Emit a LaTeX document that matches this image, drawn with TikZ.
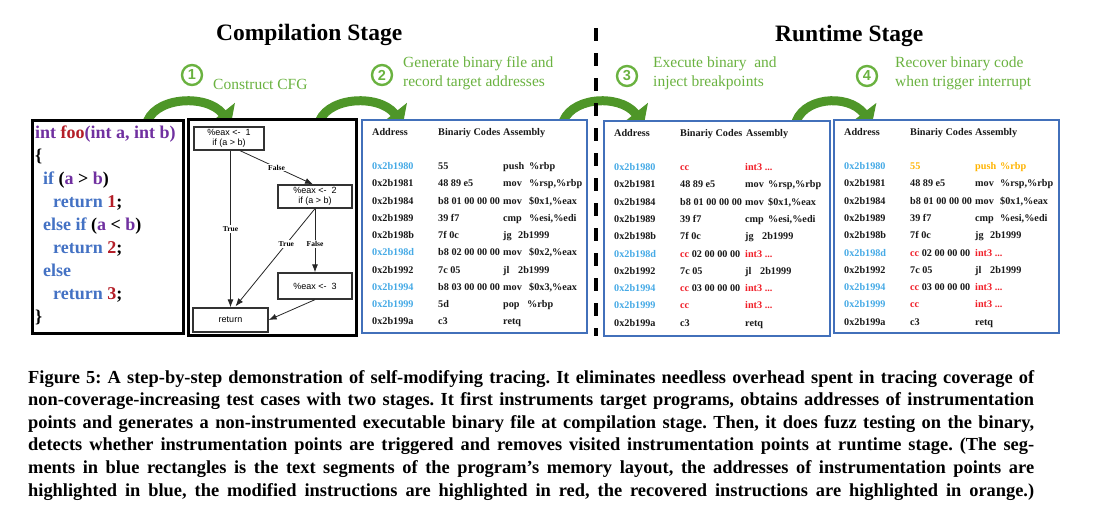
\documentclass[tikz,border=0pt]{standalone}
\usepackage{fontspec}
\setmainfont{Liberation Serif}
\newfontfamily\sansf{Liberation Sans}
\usetikzlibrary{arrows.meta,calc}
\definecolor{grn}{RGB}{106,178,64}
\definecolor{arrowgrn}{RGB}{78,150,40}
\definecolor{boxblue}{RGB}{66,112,186}
\definecolor{addrblue}{RGB}{70,170,230}
\definecolor{hired}{RGB}{240,30,40}
\definecolor{hiorange}{RGB}{255,180,0}
\definecolor{kwblue}{RGB}{68,114,196}
\definecolor{kwpurple}{RGB}{112,48,160}
\definecolor{kwred}{RGB}{180,30,40}
\definecolor{ink}{RGB}{25,25,25}
\newcommand\trow[7]{%
  \node[tt] (#1a) at (\tx, \ty+\tdy*#2) {#3};
  \node[tt] (#1c) at (\tx+66, \ty+\tdy*#2) {#4};
  \node[tt] (#1m) at (\tx+131, \ty+\tdy*#2) {#5};
  \node[tt] (#1o) at (\tx+131+#7, \ty+\tdy*#2) {#6};}
\newcommand\ad[1]{\textcolor{addrblue}{#1}}
\newcommand\rd[1]{\textcolor{hired}{#1}}
\newcommand\og[1]{\textcolor{hiorange}{#1}}
\newcommand\kp[1]{\textcolor{kwpurple}{#1}}
\newcommand\kb[1]{\textcolor{kwblue}{#1}}
\newcommand\kr[1]{\textcolor{kwred}{#1}}
\frenchspacing
\tikzset{
  tt/.style={anchor=base west, inner sep=0, text=ink, font=\fontsize{10.2}{12}\selectfont\bfseries},
  codeline/.style={anchor=base west, inner sep=0, font=\fontsize{18}{22}\selectfont\bfseries},
  title/.style={anchor=base west, inner sep=0, font=\fontsize{23.5}{26}\selectfont\bfseries},
  steptext/.style={anchor=base west, inner sep=0, text=grn, align=left, font=\fontsize{15.5}{19}\selectfont},
  stepnum/.style={circle, draw=grn, line width=2.4, text=grn, minimum size=20, inner sep=0, font=\sansf\fontsize{14.5}{14.5}\selectfont\bfseries},
  bigarrow/.style={draw=arrowgrn, line width=9, -{Triangle[width=32pt,length=14pt,fill=arrowgrn]}},
  blackbox/.style={draw=black, fill=white, line width=3, inner sep=0},
  bluebox/.style={draw=boxblue, fill=white, line width=2.5, inner sep=0},
  cfgnode/.style={draw=black!80, line width=1.3, inner sep=0, align=center, font=\sansf\fontsize{9}{10.5}\selectfont},
  cfgedge/.style={draw=black!85, line width=0.8, -{Latex[length=8pt,width=6pt]}},
  elabel/.style={fill=white, inner sep=1.2, font=\fontsize{7.5}{9}\selectfont\bfseries},
  capline/.style={anchor=base west, inner sep=0, font=\fontsize{18.4}{22.6}\selectfont\bfseries},
}
\begin{document}
\begin{tikzpicture}[x=1pt,y=-1pt]
\useasboundingbox (0,0) rectangle (1093,517);
% titles
\node[title] (t-comp) at (216,40) {Compilation Stage};
\node[title] (t-run) at (775,41) {Runtime Stage};
% step labels
\node[stepnum] (n1) at (192,75) {1};
\node[steptext] (s1) at (213,89) {Construct CFG};
\node[stepnum] (n2) at (382,75) {2};
\node[steptext] (s2) at (403,86) {Generate binary file and\\record target addresses};
\node[stepnum] (n3) at (627,76) {3};
\node[steptext] (s3) at (653,86) {Execute binary\ \ and\\inject breakpoints};
\node[stepnum] (n4) at (867,76) {4};
\node[steptext] (s4) at (895,86) {Recover binary code\\when trigger interrupt};
% green arrows
\coordinate (a1s) at (146,126); \coordinate (a1e) at (231,124);
\coordinate (a2s) at (318,126); \coordinate (a2e) at (403,124);
\coordinate (a3s) at (562,126); \coordinate (a3e) at (644,124);
\coordinate (a4s) at (795,126); \coordinate (a4e) at (872,124);
\draw[bigarrow] (a1s) .. controls (151,97) and (206,93) .. (a1e);
\draw[bigarrow] (a2s) .. controls (323,97) and (378,93) .. (a2e);
\draw[bigarrow] (a3s) .. controls (567,97) and (619,93) .. (a3e);
\draw[bigarrow] (a4s) .. controls (800,97) and (848,93) .. (a4e);
% dashed separator
\coordinate (d1) at (596,28); \coordinate (d2) at (596,336);
\draw[line width=4, dash pattern=on 13 off 12] (d1) -- (d2);
% boxes
\node[blackbox, minimum width=151, minimum height=213] (code) at (107.5,226.5) {};
\node[blackbox, minimum width=168, minimum height=216] (cfg) at (272,227) {};
\node[bluebox, minimum width=225, minimum height=213] (tb1) at (474.5,226.5) {};
\node[bluebox, minimum width=226, minimum height=215] (tb2) at (717,228.5) {};
\node[bluebox, minimum width=225, minimum height=213] (tb3) at (946.5,226.5) {};
% source code
\node[codeline] (c1) at (35,138) {\kp{int} \kr{foo}\kp{(int a, int b)}};
\node[codeline] (c2) at (35,161.1) {\{};
\node[codeline] (c3) at (43,184.2) {\kb{if} (\kp{a} > \kp{b})};
\node[codeline] (c4) at (53,207.3) {\kb{return} \kr{1};};
\node[codeline] (c5) at (43,230.4) {\kb{else if} (\kp{a} < \kp{b})};
\node[codeline] (c6) at (53,253.5) {\kb{return} \kr{2};};
\node[codeline] (c7) at (43,276.6) {\kb{else}};
\node[codeline] (c8) at (53,299.7) {\kb{return} \kr{3};};
\node[codeline] (c9) at (35,322.8) {\}};
% CFG
\node[cfgnode, minimum width=70, minimum height=23] (A) at (229,138.5) {\%eax <-\ \ 1\\if (a > b)};
\node[cfgnode, minimum width=74, minimum height=23] (B) at (315,196.5) {\%eax <-\ \ 2\\if (a > b)};
\node[cfgnode, minimum width=74, minimum height=26] (C) at (315,286) {\%eax <-\ \ 3};
\node[cfgnode, minimum width=75, minimum height=24] (D) at (230.5,320) {return};
\draw[cfgedge] (A.south -| D.north) -- node[elabel] (l1) {True} (D.north);
\draw[cfgedge] ($(A.south)+(11,0)$) -- node[elabel] (l2) {False} ($(B.north)-(2,0)$);
\draw[cfgedge] (B.south) -- node[elabel, pos=0.36] (l3) {True} ($(D.north)+(5,-1)$);
\draw[cfgedge] (B.south) -- node[elabel, pos=0.55] (l4) {False} (C.north);
\draw[cfgedge] (C.south) -- (D.east);
% table 1
\def\tx{372}\def\ty{152.25}\def\tdy{17.25}
\node[tt] (h1a) at (372,135.5) {Address};
\node[tt] (h1c) at (438,135.5) {Binariy Codes};
\node[tt] (h1m) at (503,135.5) {Assembly};
\trow{r1x1}{1}{\ad{0x2b1980}}{55}{push}{\%rbp}{26}
\trow{r1x2}{2}{0x2b1981}{48 89 e5}{mov}{\%rsp,\%rbp}{26}
\trow{r1x3}{3}{0x2b1984}{b8 01 00 00 00}{mov}{\$0x1,\%eax}{26}
\trow{r1x4}{4}{0x2b1989}{39 f7}{cmp}{\%esi,\%edi}{26}
\trow{r1x5}{5}{0x2b198b}{7f 0c}{jg}{2b1999}{15}
\trow{r1x6}{6}{\ad{0x2b198d}}{b8 02 00 00 00}{mov}{\$0x2,\%eax}{26}
\trow{r1x7}{7}{0x2b1992}{7c 05}{jl}{2b1999}{15}
\trow{r1x8}{8}{\ad{0x2b1994}}{b8 03 00 00 00}{mov}{\$0x3,\%eax}{26}
\trow{r1x9}{9}{\ad{0x2b1999}}{5d}{pop}{\%rbp}{24}
\trow{r1x10}{10}{0x2b199a}{c3}{retq}{}{26}
% table 2
\def\tx{614}\def\ty{153.2}\def\tdy{17.3}
\node[tt] (h2a) at (614,136.5) {Address};
\node[tt] (h2c) at (680,136.5) {Binariy Codes};
\node[tt] (h2m) at (746,136.5) {Assembly};
\trow{r2x1}{1}{\ad{0x2b1980}}{\rd{cc}}{\rd{int3 ...}}{}{22}
\trow{r2x2}{2}{0x2b1981}{48 89 e5}{mov}{\%rsp,\%rbp}{23}
\trow{r2x3}{3}{0x2b1984}{b8 01 00 00 00}{mov}{\$0x1,\%eax}{23}
\trow{r2x4}{4}{0x2b1989}{39 f7}{cmp}{\%esi,\%edi}{23}
\trow{r2x5}{5}{0x2b198b}{7f 0c}{jg}{2b1999}{17}
\trow{r2x6}{6}{\ad{0x2b198d}}{\rd{cc} 02 00 00 00}{\rd{int3 ...}}{}{22}
\trow{r2x7}{7}{0x2b1992}{7c 05}{jl}{2b1999}{15}
\trow{r2x8}{8}{\ad{0x2b1994}}{\rd{cc} 03 00 00 00}{\rd{int3 ...}}{}{22}
\trow{r2x9}{9}{\ad{0x2b1999}}{\rd{cc}}{\rd{int3 ...}}{}{22}
\trow{r2x10}{10}{0x2b199a}{c3}{retq}{}{22}
% table 3
\def\tx{844}\def\ty{152.2}\def\tdy{17.3}
\node[tt] (h3a) at (844,135.5) {Address};
\node[tt] (h3c) at (910,135.5) {Binariy Codes};
\node[tt] (h3m) at (975,135.5) {Assembly};
\trow{r3x1}{1}{\ad{0x2b1980}}{\og{55}}{\og{push}}{\og{\%rbp}}{25}
\trow{r3x2}{2}{0x2b1981}{48 89 e5}{mov}{\%rsp,\%rbp}{25}
\trow{r3x3}{3}{0x2b1984}{b8 01 00 00 00}{mov}{\$0x1,\%eax}{25}
\trow{r3x4}{4}{0x2b1989}{39 f7}{cmp}{\%esi,\%edi}{25}
\trow{r3x5}{5}{0x2b198b}{7f 0c}{jg}{2b1999}{15}
\trow{r3x6}{6}{\ad{0x2b198d}}{\rd{cc} 02 00 00 00}{\rd{int3 ...}}{}{25}
\trow{r3x7}{7}{0x2b1992}{7c 05}{jl}{2b1999}{15}
\trow{r3x8}{8}{\ad{0x2b1994}}{\rd{cc} 03 00 00 00}{\rd{int3 ...}}{}{25}
\trow{r3x9}{9}{\ad{0x2b1999}}{\rd{cc}}{\rd{int3 ...}}{}{25}
\trow{r3x10}{10}{0x2b199a}{c3}{retq}{}{25}
% caption
\node[capline] (cap1) at (28,383) {\makebox[1006pt][s]{Figure 5: A step-by-step demonstration of self-modifying tracing. It eliminates needless overhead spent in tracing coverage of}};
\node[capline] (cap2) at (28,405.6) {\makebox[1006pt][s]{non-coverage-increasing test cases with two stages. It first instruments target programs, obtains addresses of instrumentation}};
\node[capline] (cap3) at (28,428.2) {\makebox[1006pt][s]{points and generates a non-instrumented executable binary file at compilation stage. Then, it does fuzz testing on the binary,}};
\node[capline] (cap4) at (28,450.8) {\makebox[1006pt][s]{detects whether instrumentation points are triggered and removes visited instrumentation points at runtime stage. (The seg-}};
\node[capline] (cap5) at (28,473.4) {\makebox[1006pt][s]{ments in blue rectangles is the text segments of the program’s memory layout, the addresses of instrumentation points are}};
\node[capline] (cap6) at (28,496) {\makebox[1006pt][s]{highlighted in blue, the modified instructions are highlighted in red, the recovered instructions are highlighted in orange.)}};
\end{tikzpicture}
\end{document}
